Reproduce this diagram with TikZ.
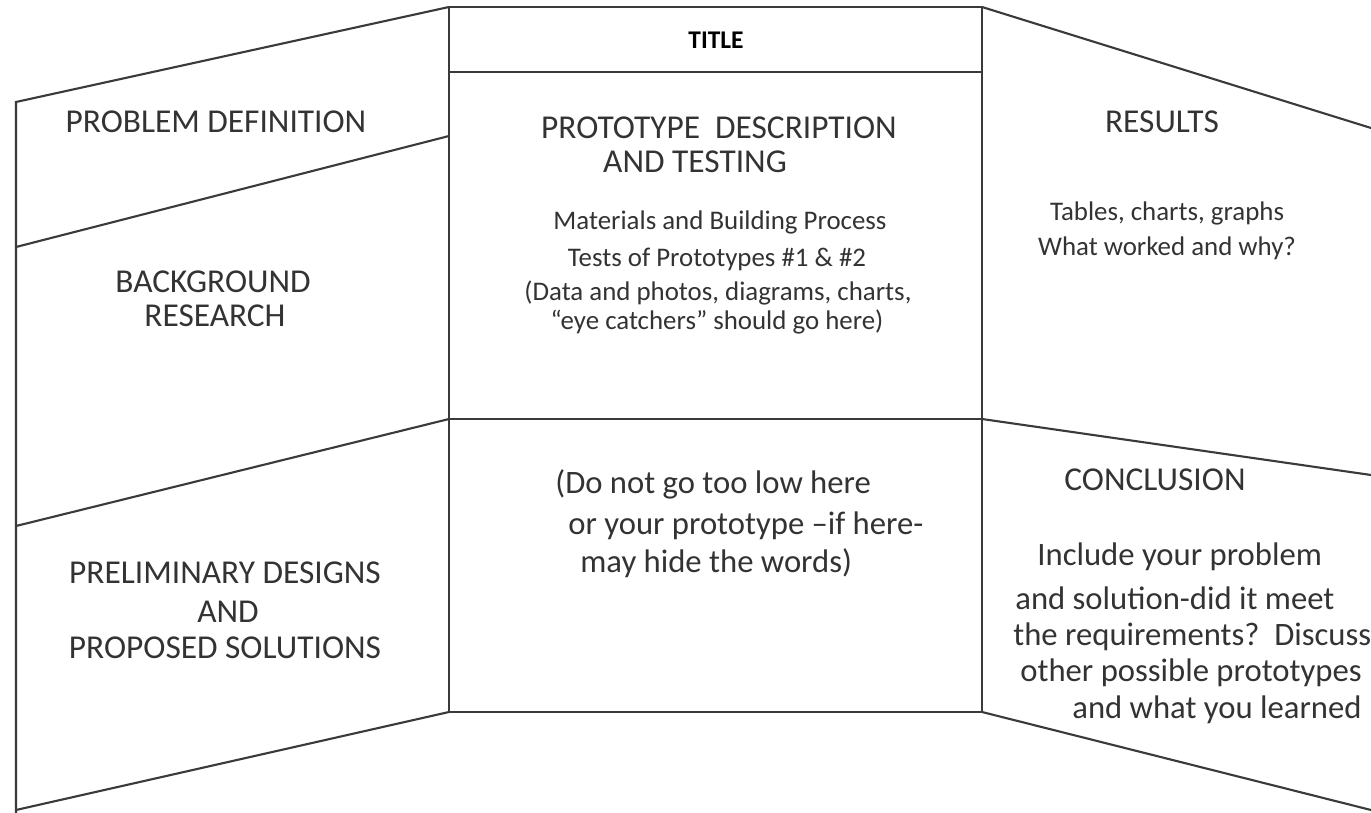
\documentclass[tikz,border=0pt]{standalone}
\usepackage{fontspec}
\setmainfont{Carlito}
\usetikzlibrary{positioning}
\definecolor{edge}{HTML}{3A3A3A}
\definecolor{ink}{HTML}{333333}
\tikzset{
  board/.style={draw=edge, line width=1.2pt},
  bighead/.style={text=ink, inner sep=0pt, font=\fontsize{19}{22}\selectfont},
  titlehead/.style={text=black, inner sep=0pt, font=\bfseries\fontsize{14.5}{17}\selectfont},
  smalltext/.style={text=ink, inner sep=0pt, font=\fontsize{15.3}{18}\selectfont},
  bodytext/.style={text=ink, inner sep=0pt, font=\fontsize{18.6}{22}\selectfont},
}

\begin{document}
\begin{tikzpicture}[x=0.02cm,y=-0.02cm]
\useasboundingbox (0,0) rectangle (1371,813);
% left wing
\draw [board] (449,7) -- (16,102) -- (16,813);
\draw [board] (16,247) -- (449,136);
\draw [board] (16,526) -- (449,419);
\draw [board] (16,810) -- (449,712);
% centre board
\draw [board] (449,7) rectangle (982,712);
\draw [board] (449,72) -- (982,72);
\draw [board] (449,419) -- (982,419);
% right wing
\draw [board] (982,7) -- (1371,128);
\draw [board] (982,419) -- (1371,475);
\draw [board] (982,712) -- (1371,810);

\node [bighead] (probdef) at (216,122) {PROBLEM DEFINITION};
\node [bighead] (backgr) at (213,282) {BACKGROUND};
\node [bighead] (resrch) at (215,316) {RESEARCH};
\node [bighead] (prelim) at (225,573) {PRELIMINARY DESIGNS};
\node [bighead] (prelimand) at (228,612) {AND};
\node [bighead] (propsol) at (225,648) {PROPOSED SOLUTIONS};

\node [titlehead] (title) at (716,40) {TITLE};
\node [bighead] (protodesc) at (719,128) {PROTOTYPE\ \ DESCRIPTION};
\node [bighead] (prototest) at (695,162) {AND TESTING};
\node [smalltext] (materials) at (720,222) {Materials and Building Process};
\node [smalltext] (tests) at (717,259) {Tests of Prototypes \#1 \& \#2};
\node [smalltext] (data) at (718,293) {(Data and photos, diagrams, charts,};
\node [smalltext] (catchers) at (717,322) {“eye catchers” should go here)};
\node [bodytext, anchor=west] (lowa) at (555,484) {(Do not go too low here};
\node [bodytext, anchor=west] (lowb) at (568,526) {or your prototype –if here-};
\node [bodytext, anchor=west] (lowc) at (580,563) {may hide the words)};

\node [bighead] (results) at (1162,122) {RESULTS};
\node [smalltext] (tables) at (1167,213) {Tables, charts, graphs};
\node [smalltext] (worked) at (1167,248) {What worked and why?};
\node [bighead] (concl) at (1155,480) {CONCLUSION};
\node [bodytext, anchor=west] (incla) at (1037,557) {Include your problem};
\node [bodytext, anchor=west] (inclb) at (1015,598) {and solution-did it meet};
\node [bodytext, anchor=west] (inclc) at (1013,637) {the requirements?\ \ Discuss};
\node [bodytext, anchor=west] (incld) at (1020,673) {other possible prototypes};
\node [bodytext, anchor=west] (incle) at (1072,710) {and what you learned};
\end{tikzpicture}
\end{document}
